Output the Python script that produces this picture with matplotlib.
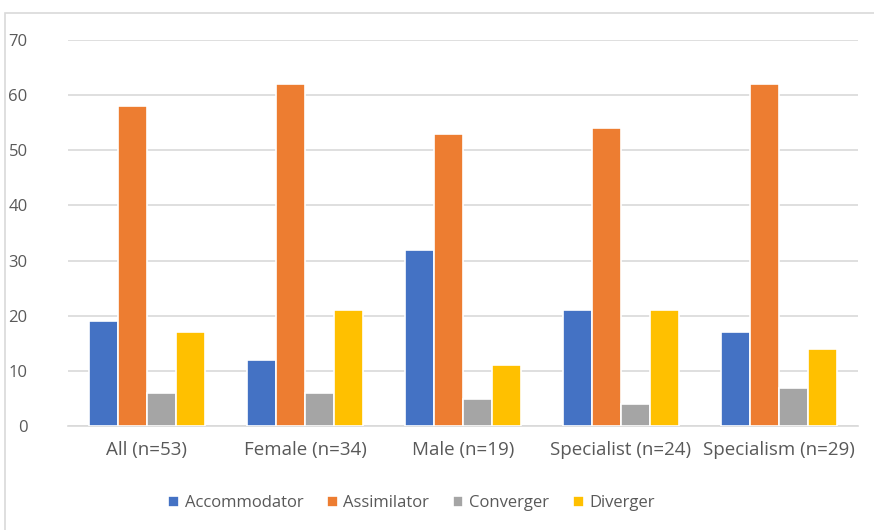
import matplotlib.pyplot as plt
import numpy as np
from matplotlib.patches import Rectangle

categories = ['All (n=53)', 'Female (n=34)', 'Male (n=19)', 'Specialist (n=24)', 'Specialism (n=29)']
accommodator = [19, 12, 32, 21, 17]
assimilator = [58, 62, 53, 54, 62]
converger = [6, 6, 5, 4, 7]
diverger = [17, 21, 11, 21, 14]

series = [('Accommodator', accommodator, '#4472C4'),
          ('Assimilator', assimilator, '#ED7D31'),
          ('Converger', converger, '#A5A5A5'),
          ('Diverger', diverger, '#FFC000')]

plt.rcParams['font.family'] = ['Open Sans', 'DejaVu Sans']
text_color = '#595959'

fig = plt.figure(figsize=(8.74, 5.30), dpi=100)
ax = fig.add_axes([0.0778, 0.196, 0.9039, 0.7285])

x = np.arange(len(categories))
w = 0.1835
for i, (name, vals, color) in enumerate(series):
    ax.bar(x + (i - 1.5) * w, vals, width=w, color=color, label=name,
           edgecolor='white', linewidth=1.2, zorder=3)

ax.set_xlim(-0.5, len(categories) - 0.5)
ax.set_ylim(0, 70)
ax.set_yticks(range(0, 71, 10))
ax.set_xticks(x)
ax.set_xticklabels(categories)
ax.grid(axis='y', color='#D9D9D9', linewidth=1.2, zorder=0)
ax.tick_params(length=0, colors=text_color)
ax.tick_params(axis='x', labelsize=13.5, pad=11)
ax.tick_params(axis='y', labelsize=12, pad=29)
for s in ['top', 'right', 'left']:
    ax.spines[s].set_visible(False)
ax.spines['bottom'].set_color('#D9D9D9')
ax.spines['bottom'].set_linewidth(1.2)

fig.legend(loc='center', bbox_to_anchor=(411.5 / 874, 1 - 503 / 530), ncol=4, frameon=False,
           fontsize=12, labelcolor=text_color, handlelength=0.65, handleheight=0.65,
           columnspacing=1.4, handletextpad=0.35)

fig.patches.append(Rectangle((5 / 874, -0.1), 1.2, 1 - 13 / 530 + 0.1, transform=fig.transFigure,
                             fill=False, edgecolor='#D9D9D9', linewidth=1.2, zorder=0))

fig.savefig('out.png', dpi=100)
